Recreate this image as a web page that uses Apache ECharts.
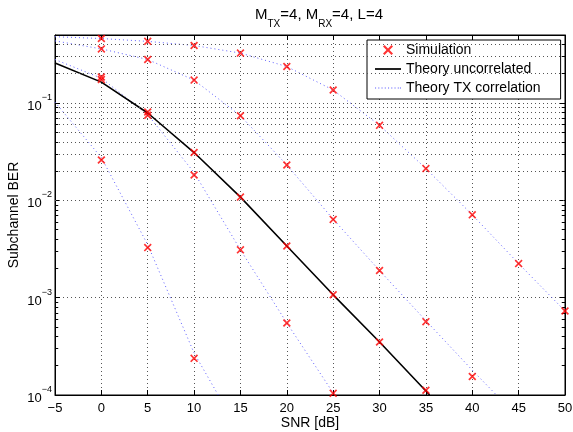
<!DOCTYPE html>
<html lang="en">
<head>
<meta charset="UTF-8">
<title>Subchannel BER</title>
<script src="https://cdn.jsdelivr.net/npm/echarts@6/dist/echarts.min.js"></script>
<style>
    body { margin: 0; background: #fff; }
    #main { width: 573px; height: 432px; }
</style>
</head>
<body>
<div id="main"></div>
<script>
    // simulated BER at 0,5,10,... dB (one list per case)
    var snrSim = [0, 5, 10, 15, 20, 25, 30, 35, 40, 45, 50];
    var simUncorr = [0.174, 0.081, 0.031, 0.0108, 0.0034, 0.00107, 0.00035, 0.000112];
    var simA = [0.026, 0.00327, 0.000238];
    var simB = [0.185, 0.075, 0.0182, 0.0031, 0.00055, 0.000104];
    var simC = [0.36, 0.28, 0.172, 0.074, 0.0231, 0.00637, 0.0019, 0.000567, 0.000155];
    var simD = [0.46, 0.43, 0.39, 0.326, 0.237, 0.136, 0.059, 0.0212, 0.0071, 0.00224, 0.00073];

    // theory curves (snr list + ber list), last point is where they leave the axes
    var snrUncorr = [-5, 0, 5, 10, 15, 20, 25, 30, 35, 35.4];
    var berUncorr = [0.258, 0.164, 0.079, 0.031, 0.0108, 0.0034, 0.00107, 0.00035, 0.00011, 0.0001];
    var snrA = [-5, 0, 5, 10, 12.6];
    var berA = [0.102, 0.0275, 0.0035, 0.00027, 0.0001];
    var snrB = [-5, 0, 5, 10, 15, 20, 25, 25.3];
    var berB = [0.28, 0.18, 0.076, 0.0193, 0.0031, 0.00055, 0.000105, 0.0001];
    var snrC = [-5, 0, 5, 10, 15, 20, 25, 30, 35, 40, 42.6];
    var berC = [0.435, 0.36, 0.28, 0.172, 0.074, 0.0231, 0.0064, 0.0019, 0.00058, 0.00018, 0.0001];
    var snrD = [-5, 0, 5, 10, 15, 20, 25, 30, 35, 40, 45, 50];
    var berD = [0.48, 0.46, 0.43, 0.39, 0.326, 0.237, 0.136, 0.059, 0.0212, 0.0071, 0.00224, 0.00073];

    var FONT = 'Liberation Sans, Arial, sans-serif';
    var GRID_COLOR = '#555';
    var DOT = [1, 3];
    var CORR_COLOR = '#5e5eff';

    function pairs(xs, ys) {
        return ys.map(function (y, i) { return [xs[i], y]; });
    }

    var simData = [].concat(
        pairs(snrSim, simUncorr), pairs(snrSim, simA), pairs(snrSim, simB),
        pairs(snrSim, simC), pairs(snrSim, simD)
    );

    // matlab style minor grid lines (and small border ticks) at 2..9 x 10^k
    var minorLines = [];
    var minorTicks = [];
    for (var d = -4; d <= -1; d++) {
        for (var k = 2; k <= 9; k++) {
            var v = k * Math.pow(10, d);
            if (v >= 0.5) continue;
            minorLines.push({ yAxis: v });
            minorTicks.push([{ coord: [-5, v] }, { coord: [-4.65, v] }]);
            minorTicks.push([{ coord: [49.65, v] }, { coord: [50, v] }]);
        }
    }

    var chart = echarts.init(document.getElementById('main'));

    function yLabel(v) {
        var lg = Math.log10(v);
        var e = Math.round(lg);
        if (Math.abs(lg - e) > 1e-6) return '';
        return '{b|10}{e|' + (e < 0 ? '\u2212' : '') + Math.abs(e) + '}';
    }

    function xLabel(v) {
        return v < 0 ? '\u2212' + Math.abs(v) : String(v);
    }

    var corrLine = { color: CORR_COLOR, width: 1, type: DOT };
    var xMark = 'path://M0,1.5L1.5,0L5,3.5L8.5,0L10,1.5L6.5,5L10,8.5L8.5,10L5,6.5L1.5,10L0,8.5L3.5,5Z';
    // legend icons: x marker with empty margin, solid line, dotted line
    var legendX = 'path://M-6,-2M16,12M0,1.5L1.5,0L5,3.5L8.5,0L10,1.5L6.5,5L10,8.5L8.5,10L5,6.5L1.5,10L0,8.5L3.5,5Z';
    var legendSolid = 'path://M0,0H24V1.6H0Z';
    var dots = '';
    for (var i = 0; i < 24; i += 3) dots += 'M' + i + ',0h1v1h-1Z';
    var legendDots = 'path://' + dots + 'M23,0h1v1h-1Z';

    var option = {
        animation: false,
        textStyle: { fontFamily: FONT },
        title: {
            text: '{n|M}{s|TX}{n|=4, M}{s|RX}{n|=4, L=4}',
            left: 314,
            top: 2,
            textAlign: 'center',
            textStyle: {
                fontWeight: 'normal',
                rich: {
                    n: { fontSize: 15, fontFamily: FONT, fontWeight: 'normal', color: '#000', lineHeight: 22, verticalAlign: 'top' },
                    s: { fontSize: 10, fontFamily: FONT, fontWeight: 'normal', color: '#000', lineHeight: 22, verticalAlign: 'bottom' }
                }
            }
        },
        grid: {
            left: 55, right: 8, top: 35, bottom: 37,
            outerBoundsMode: 'none',
            show: true, borderColor: '#000', borderWidth: 1
        },
        legend: {
            data: [
                { name: 'Simulation', icon: legendX, itemStyle: { color: '#ff0000' } },
                { name: 'Theory uncorrelated', icon: legendSolid, itemStyle: { color: '#000' } },
                { name: 'Theory TX correlation', icon: legendDots, itemStyle: { color: CORR_COLOR } }
            ],
            orient: 'vertical',
            left: 367,
            top: 40,
            padding: [3, 20, 4, 8],
            itemGap: 5,
            itemWidth: 26,
            itemHeight: 14,
            backgroundColor: '#fff',
            borderColor: '#000',
            borderWidth: 1,
            textStyle: { fontSize: 14, color: '#000', fontFamily: FONT }
        },
        xAxis: [{
            type: 'value',
            min: -5,
            max: 50,
            interval: 5,
            name: 'SNR [dB]',
            nameLocation: 'middle',
            nameGap: 21,
            nameMoveOverlap: false,
            nameTextStyle: { fontSize: 14, color: '#000', fontFamily: FONT },
            axisLine: { onZero: false, lineStyle: { color: '#000' } },
            axisTick: { inside: true, length: 5, lineStyle: { color: '#000' } },
            axisLabel: { fontSize: 13, color: '#000', margin: 7, formatter: xLabel },
            splitLine: { show: true, lineStyle: { color: GRID_COLOR, type: DOT } }
        }, {
            type: 'value',
            position: 'top',
            min: -5,
            max: 50,
            interval: 5,
            axisLine: { onZero: false, lineStyle: { color: '#000' } },
            axisTick: { inside: true, length: 5, lineStyle: { color: '#000' } },
            axisLabel: { show: false },
            splitLine: { show: false }
        }],
        yAxis: [{
            type: 'log',
            logBase: 10,
            min: 1e-4,
            max: 0.5,
            name: 'Subchannel BER',
            nameLocation: 'middle',
            nameGap: 34,
            nameMoveOverlap: false,
            nameTextStyle: { fontSize: 14, color: '#000', fontFamily: FONT },
            axisLine: { onZero: false, lineStyle: { color: '#000' } },
            axisTick: { inside: true, length: 5, lineStyle: { color: '#000' } },
            axisLabel: {
                margin: 3,
                formatter: yLabel,
                rich: {
                    b: { fontSize: 13, color: '#000', fontFamily: FONT, lineHeight: 20, verticalAlign: 'bottom' },
                    e: { fontSize: 9, color: '#000', fontFamily: FONT, lineHeight: 20, verticalAlign: 'top' }
                }
            },
            splitLine: { show: true, lineStyle: { color: GRID_COLOR, type: DOT } }
        }, {
            type: 'log',
            logBase: 10,
            min: 1e-4,
            max: 0.5,
            position: 'right',
            axisLine: { onZero: false, lineStyle: { color: '#000' } },
            axisTick: { inside: true, length: 5, lineStyle: { color: '#000' } },
            axisLabel: { show: false },
            splitLine: { show: false }
        }],
        series: [
            {
                name: 'minor grid',
                type: 'line',
                data: [],
                silent: true,
                markLine: {
                    silent: true,
                    symbol: 'none',
                    label: { show: false },
                    lineStyle: { color: GRID_COLOR, type: DOT, width: 1 },
                    data: minorLines
                }
            },
            {
                name: 'minor ticks',
                type: 'line',
                data: [],
                silent: true,
                markLine: {
                    silent: true,
                    symbol: 'none',
                    label: { show: false },
                    lineStyle: { color: '#000', type: 'solid', width: 1 },
                    data: minorTicks
                }
            },
            { name: 'Theory TX correlation', type: 'line', symbol: 'none', lineStyle: corrLine, itemStyle: { color: CORR_COLOR }, data: pairs(snrA, berA) },
            { name: 'Theory TX correlation', type: 'line', symbol: 'none', lineStyle: corrLine, itemStyle: { color: CORR_COLOR }, data: pairs(snrB, berB) },
            { name: 'Theory TX correlation', type: 'line', symbol: 'none', lineStyle: corrLine, itemStyle: { color: CORR_COLOR }, data: pairs(snrC, berC) },
            { name: 'Theory TX correlation', type: 'line', symbol: 'none', lineStyle: corrLine, itemStyle: { color: CORR_COLOR }, data: pairs(snrD, berD) },
            {
                name: 'Theory uncorrelated',
                type: 'line',
                symbol: 'none',
                lineStyle: { color: '#000', width: 1.6 },
                itemStyle: { color: '#000' },
                data: pairs(snrUncorr, berUncorr)
            },
            {
                name: 'Simulation',
                type: 'scatter',
                symbol: xMark,
                symbolSize: 8,
                itemStyle: { color: '#ff0000' },
                z: 5,
                data: simData
            }
        ]
    };

    chart.setOption(option);
</script>
</body>
</html>
